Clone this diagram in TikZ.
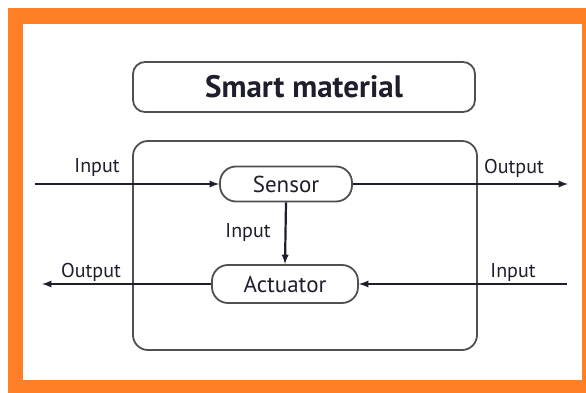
\documentclass[tikz,border=0pt]{standalone}
\usepackage{fontspec}
\setmainfont{PT Sans}
\usepackage{tikz}

\definecolor{frameorange}{RGB}{255,127,39}
\definecolor{boxgray}{RGB}{80,80,80}
\definecolor{inkdark}{RGB}{30,30,45}

\begin{document}
\begin{tikzpicture}[x=1pt,y=-1pt,line width=1.8pt,>=latex,
  box/.style={draw=boxgray,rounded corners=16pt,inner sep=0pt,text=inkdark,font=\fontsize{23}{26}\selectfont},
  lbl/.style={anchor=base,text=inkdark,font=\fontsize{20}{24}\selectfont},
  signal/.style={->,line width=2.2pt,color=inkdark}]

% orange frame round the white sheet
\fill[white] (0,0) rectangle (586,393);
\fill[frameorange] (8,8) rectangle (586,393);
\fill[white] (23,24) rectangle (582,380);
\useasboundingbox (0,0) rectangle (586,393);

\node[box,rounded corners=12pt,minimum width=342pt,minimum height=50pt,
  font=\fontsize{31}{35}\selectfont\bfseries] (smart) at (304,87) {Smart material};

\draw[boxgray,rounded corners=15pt] (133,141) rectangle (477,350);

\node[box,minimum width=132pt,minimum height=35pt] (sensor) at (286,184) {Sensor};
\node[box,minimum width=146pt,minimum height=38pt] (actuator) at (285,284) {Actuator};

\coordinate (inL) at (35,184);
\coordinate (outR) at (568,184);
\coordinate (inR) at (567,284);
\coordinate (outL) at (42,284);

% Signal paths in and out of the material.
\draw[signal] (inL) -- (sensor.west);
\draw[signal] (sensor.east) -- (outR);
\draw[signal] (sensor.south) -- (actuator.north);
\draw[signal] (inR) -- (actuator.east);
\draw[signal] (actuator.west) -- (outL);

\node[lbl] (inLtext) at (97,172) {Input};
\node[lbl] (outRtext) at (514,173) {Output};
\node[lbl] (midtext) at (248,237) {Input};
\node[lbl] (outLtext) at (91,277) {Output};
\node[lbl] (inRtext) at (513,277) {Input};

\end{tikzpicture}
\end{document}
